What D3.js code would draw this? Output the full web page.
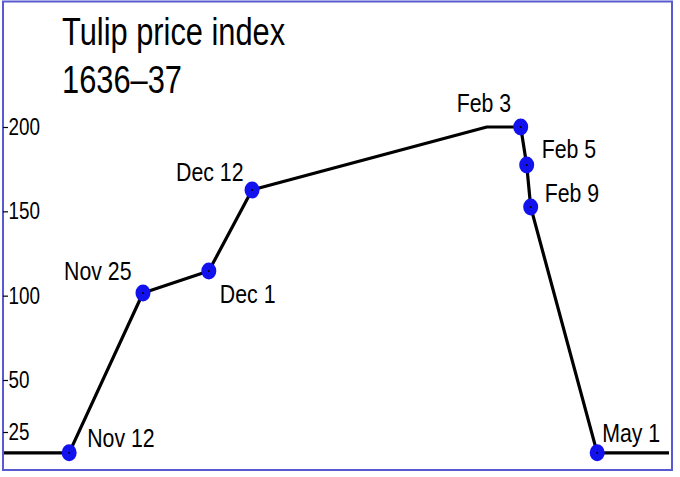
<!DOCTYPE html>
<html>
<head>
<meta charset="utf-8">
<script src="https://cdn.jsdelivr.net/npm/d3@7"></script>
<style>
  html, body { margin: 0; padding: 0; background: #fff; }
  svg { display: block; }
  text { font-family: "Liberation Sans", Arial, sans-serif; fill: #000; }
</style>
</head>
<body>
<svg id="chart" width="680" height="477"></svg>
<script>
// ---- data ----
const labels   = ["", "Nov 12", "Nov 25", "Dec 1", "Dec 12", "", "Feb 3", "Feb 5", "Feb 9", "May 1", ""];
// horizontal position along the (unscaled) timeline, 0–100
const timeline = [0, 9.8, 20.9, 30.8, 37.3, 72.6, 77.7, 78.6, 79.2, 89.2, 100];
// price index values
const index    = [15, 15, 101.6, 114.6, 162.7, 200, 200, 177.5, 152.6, 15, 15];
const marked   = [false, true, true, true, true, false, true, true, true, true, false];
const tickValues = [25, 50, 100, 150, 200];
const titleLines = ["Tulip price index", "1636\u201337"];

// label placement offsets relative to the point (style, not data)
const labelOffset = {
  "Nov 12": [18, -6],
  "Nov 25": [-79, -13],
  "Dec 1":  [11, 32],
  "Dec 12": [-76, -9],
  "Feb 3":  [-64, -15],
  "Feb 5":  [15, -7],
  "Feb 9":  [14, -5],
  "May 1":  [5, -11]
};

const NARROW = 0.82;       // horizontal condensation of the original's narrow sans font
const TITLE_NARROW = 0.79;

const svg = d3.select("#chart");

// scales
const x = d3.scaleLinear().domain([0, 100]).range([4, 669]);
// the original axis is unevenly spaced below 50
const y = d3.scaleLinear().domain([0, 25, 50, 200]).range([484, 432, 380, 127]);

// frame
svg.append("rect")
  .attr("x", 3).attr("y", 1.5)
  .attr("width", 669).attr("height", 468.5)
  .attr("fill", "none")
  .attr("stroke", "#5a5ad0")
  .attr("stroke-width", 2);

// helper: place condensed text at (px, py)
function placeNarrow(sel, fx, fy, k = NARROW) {
  sel.attr("x", 0).attr("y", 0)
     .attr("transform", (d, i) => `translate(${fx(d, i)},${fy(d, i)}) scale(${k},1)`);
}

// title
svg.append("g").selectAll("text")
  .data(titleLines).join("text")
  .attr("font-size", 39)
  .text(d => d)
  .call(placeNarrow, () => 62, (d, i) => 45 + i * 48, TITLE_NARROW);

// y axis (tick marks at the frame + labels)
const axis = d3.axisRight(y).tickValues(tickValues).tickSize(5).tickPadding(0).tickFormat(d3.format("d"));
const gAxis = svg.append("g").attr("transform", "translate(3,0)").call(axis);
gAxis.select(".domain").remove();
gAxis.selectAll(".tick line").attr("stroke", "#000").attr("stroke-width", 1.2);
gAxis.selectAll(".tick text")
  .attr("font-size", 23)
  .attr("font-family", "'Liberation Sans', Arial, sans-serif")
  .attr("fill", "#000")
  .attr("x", 5.5 / NARROW)
  .attr("transform", `scale(${NARROW},1)`);

// data
const pts = timeline.map((t, i) => ({ t, v: index[i], label: labels[i], marked: marked[i] }));

// line
svg.append("path")
  .datum(pts)
  .attr("fill", "none")
  .attr("stroke", "#000")
  .attr("stroke-width", 3.2)
  .attr("stroke-linejoin", "round")
  .attr("d", d3.line().x(d => x(d.t)).y(d => y(d.v)));

// markers
const mk = svg.append("g").selectAll("g")
  .data(pts.filter(d => d.marked)).join("g")
  .attr("transform", d => `translate(${x(d.t)},${y(d.v)})`);
mk.append("ellipse").attr("rx", 7.5).attr("ry", 8.5).attr("fill", "#1212ee");
mk.append("circle").attr("r", 1).attr("fill", "#000");

// labels
svg.append("g").selectAll("text")
  .data(pts.filter(d => d.label)).join("text")
  .attr("font-size", 26)
  .text(d => d.label)
  .call(placeNarrow,
        d => x(d.t) + labelOffset[d.label][0],
        d => y(d.v) + labelOffset[d.label][1]);
</script>
</body>
</html>
